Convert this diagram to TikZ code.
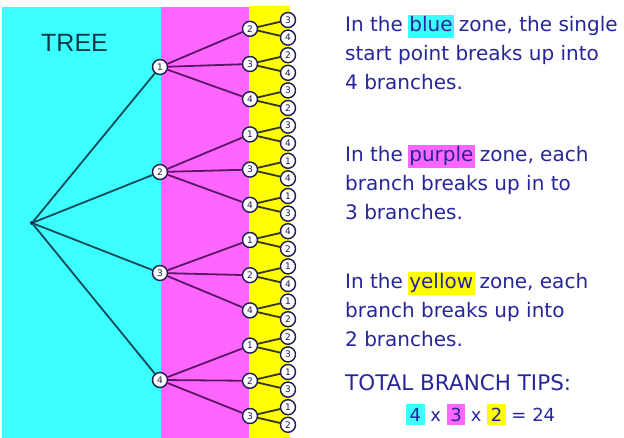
\documentclass[tikz,border=0pt]{standalone}
\usepackage{fontspec}
\setmainfont{DejaVu Sans}
\newfontfamily\treefont{Liberation Sans}
\definecolor{zcyan}{HTML}{3CFFFF}
\definecolor{zmag}{HTML}{FF66FF}
\definecolor{zyel}{HTML}{FFFF00}
\definecolor{txtblue}{HTML}{26269A}
\definecolor{navy}{HTML}{1C1C4E}
\definecolor{lteal}{HTML}{0E4A58}
\definecolor{lpurp}{HTML}{5A1664}
\definecolor{lolive}{HTML}{34341A}
\definecolor{treetxt}{HTML}{0B3A48}
\newcommand{\hlbox}[2]{{\setlength\fboxsep{1.5pt}\kern-1.5pt\colorbox{#1}{\vphantom{bp}#2}\kern-1.5pt}}
\newcommand{\eqbox}[2]{{\setlength\fboxsep{3.5pt}\colorbox{#1}{#2}}}
\tikzset{
  circ/.style={circle, draw=navy, line width=1.4pt, fill=white, inner sep=0pt,
    minimum size=15pt, text=navy, font=\fontsize{9}{9}\selectfont},
  l1/.style={draw=lteal, line width=1.8pt},
  l2/.style={draw=lpurp, line width=1.8pt},
  l3/.style={draw=lolive, line width=1.8pt},
  expl/.style={anchor=base west, inner sep=0pt, text=txtblue, font=\fontsize{20}{24}\selectfont},
}
\begin{document}
\begin{tikzpicture}[x=1pt,y=-1pt]
\useasboundingbox (0,0) rectangle (624,438);
\fill[white] (0,0) rectangle (624,438);
% zones
\fill[zcyan] (2,7) rectangle (161,438);
\fill[zmag] (161,7) rectangle (249,438);
\fill[zyel] (249,6) rectangle (290,438);
\node[anchor=base west, inner sep=0pt, text=treetxt, font=\treefont\fontsize{25}{25}\selectfont] (title) at (41,52) {TREE};
% root
\node[circle, fill=navy, inner sep=0pt, minimum size=4pt] (r) at (32,223) {};
% level 1
\foreach \g/\y in {1/67,2/172,3/273,4/380}{
  \node[circ] (a\g) at (160,\y) {\g};
  \draw[l1] (r) -- (a\g);
}
% level 2 and leaves
\foreach \g/\j/\lab/\pa/\pb in {1/1/2/3/4, 1/2/3/2/4, 1/3/4/3/2,
   2/1/1/3/4, 2/2/3/1/4, 2/3/4/1/3,
   3/1/1/4/2, 3/2/2/1/4, 3/3/4/1/2,
   4/1/1/2/3, 4/2/2/1/3, 4/3/3/1/2}{
  \pgfmathsetmacro\ya{20+17.6*(((\g-1)*3+\j-1)*2)}
  \pgfmathsetmacro\yb{\ya+17.6}
  \pgfmathsetmacro\ym{\ya+8.8}
  \node[circ] (b\g\j) at (250,\ym) {\lab};
  \node[circ] (c\g\j a) at (288,\ya) {\pa};
  \node[circ] (c\g\j b) at (288,\yb) {\pb};
  \draw[l2] (a\g) -- (b\g\j);
  \draw[l3] (b\g\j) -- (c\g\j a);
  \draw[l3] (b\g\j) -- (c\g\j b);
}
% explanations
\node[expl] (t1a) at (345,32) {In the \hlbox{zcyan}{blue} zone, the single};
\node[expl] (t1b) at (345,61) {start point breaks up into};
\node[expl] (t1c) at (345,90) {4 branches.};
\node[expl] (t2a) at (345,162) {In the \hlbox{zmag}{purple} zone, each};
\node[expl] (t2b) at (345,191) {branch breaks up in to};
\node[expl] (t2c) at (345,220) {3 branches.};
\node[expl] (t3a) at (345,289) {In the \hlbox{zyel}{yellow} zone, each};
\node[expl] (t3b) at (345,318) {branch breaks up into};
\node[expl] (t3c) at (345,347) {2 branches.};
\node[expl, font=\fontsize{21.5}{24}\selectfont] (tot) at (345,391) {TOTAL BRANCH TIPS:};
\node[expl, font=\fontsize{18}{20}\selectfont] (eq) at (406,421) {\eqbox{zcyan}{4} x \eqbox{zmag}{3} x \eqbox{zyel}{2} = 24};
\end{tikzpicture}
\end{document}
